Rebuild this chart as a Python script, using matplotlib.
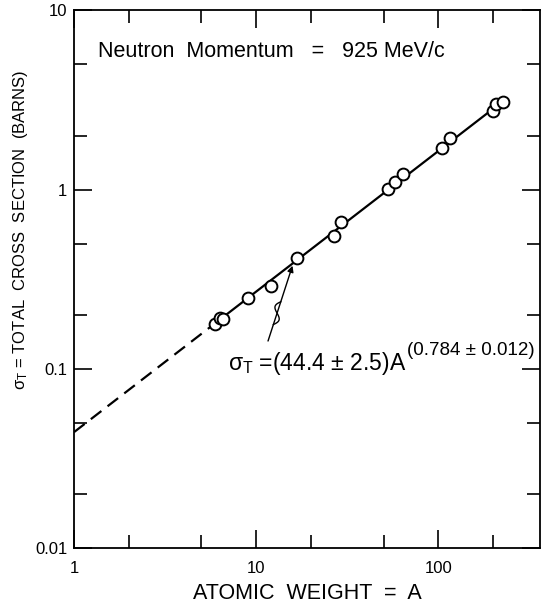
import numpy as np
import matplotlib
matplotlib.use("Agg")
from matplotlib import pyplot as plt
from matplotlib.ticker import FixedLocator, NullFormatter

plt.rcParams['font.family'] = ['Liberation Sans', 'DejaVu Sans']
plt.rcParams['mathtext.fontset'] = 'custom'
plt.rcParams['mathtext.rm'] = 'Liberation Sans'
plt.rcParams['mathtext.it'] = 'Liberation Sans'

# measured points (atomic weight, total cross section in barns)
atomic_weight = [5.95, 6.3, 6.6, 9.0, 12.1, 16.8, 26.8, 29.0,
                 53.0, 58.0, 63.5, 104, 115, 199, 206, 226]
sigma_total = [0.178, 0.192, 0.19, 0.249, 0.291, 0.417, 0.553, 0.66,
               1.01, 1.10, 1.22, 1.70, 1.93, 2.76, 3.02, 3.06]

# fit: sigma = 44.4 mb * A^0.784
fit_coef = 0.0444
fit_exp = 0.784
fit_dashed_range = [1.0, 6.0]
fit_solid_range = [6.0, 228.0]

x_major = [1, 10, 100]
x_major_labels = ['1', '10', '100']
x_minor = [2, 5, 20, 50, 200]
y_major = [0.01, 0.1, 1, 10]
y_major_labels = ['0.01', '0.1', '1', '10']
y_minor = [0.02, 0.05, 0.2, 0.5, 2, 5]

fig = plt.figure(figsize=(5.41, 6.05), dpi=100)
ax = fig.add_axes([0.137, 0.094, 0.862, 0.889])
ax.set_xscale('log')
ax.set_yscale('log')
ax.set_xlim(1, 363)
ax.set_ylim(0.01, 10)

a_dash = np.geomspace(*fit_dashed_range, 50)
a_solid = np.geomspace(*fit_solid_range, 100)
ax.plot(a_dash, fit_coef * a_dash ** fit_exp, color='black', lw=1.6,
        dashes=(6, 3.5))
ax.plot(a_solid, fit_coef * a_solid ** fit_exp, color='black', lw=1.6)
ax.plot(atomic_weight, sigma_total, 'o', ms=8.5, mfc='white', mec='black',
        mew=1.4, zorder=3)

# annotation arrow with break mark
ax.annotate('', xy=(15.8, 0.376), xytext=(11.6, 0.143),
            arrowprops=dict(arrowstyle='-|>', color='black', lw=1.0,
                            mutation_scale=9, shrinkA=0, shrinkB=0))
p0 = ax.transData.transform((11.6, 0.143))
p1 = ax.transData.transform((15.8, 0.376))
mid = p0 + 0.37 * (p1 - p0)
d = (p1 - p0) / np.linalg.norm(p1 - p0)
n = np.array([-d[1], d[0]])
t = np.linspace(-12, 12, 80)
wig = 4.0 * np.sin(np.pi * t / 12)
pts = mid + np.outer(t, d) + np.outer(wig, n)
pts_data = ax.transData.inverted().transform(pts)
ax.plot(pts_data[:, 0], pts_data[:, 1], color='black', lw=1.0)

fit_txt = ax.text(0.329, 0.332, r'$\sigma_T$ =(44.4 ± 2.5)A',
                  transform=ax.transAxes, fontsize=16.5, ha='left',
                  va='baseline')
ax.annotate('(0.784 ± 0.012)', xy=(1, 0), xycoords=fit_txt,
            xytext=(0.5, 13), textcoords='offset points', fontsize=13.5,
            ha='left', va='bottom')
ax.text(0.052, 0.913, 'Neutron  Momentum   =   925 MeV/c',
        transform=ax.transAxes, fontsize=15.5, ha='left', va='baseline')

ax.xaxis.set_major_locator(FixedLocator(x_major))
ax.xaxis.set_minor_locator(FixedLocator(x_minor))
ax.set_xticklabels(x_major_labels)
ax.xaxis.set_minor_formatter(NullFormatter())
ax.yaxis.set_major_locator(FixedLocator(y_major))
ax.yaxis.set_minor_locator(FixedLocator(y_minor))
ax.set_yticklabels(y_major_labels)
ax.yaxis.set_minor_formatter(NullFormatter())

ax.tick_params(which='both', direction='in', top=True, right=True,
               width=1.2, labelsize=12)
ax.tick_params(which='major', length=13)
ax.tick_params(which='minor', length=9.5)
ax.tick_params(axis='x', which='major', pad=9)
ax.tick_params(axis='y', which='major', pad=5)
for s in ax.spines.values():
    s.set_linewidth(1.3)

ax.set_xlabel('ATOMIC  WEIGHT  =  A', fontsize=15.5)
ax.xaxis.set_label_coords(0.5, -0.064)
ax.set_ylabel(r'$\sigma_T$ = TOTAL  CROSS  SECTION  (BARNS)', fontsize=12)
ax.yaxis.set_label_coords(-0.095, 0.592)

fig.savefig('out.png', dpi=100)
